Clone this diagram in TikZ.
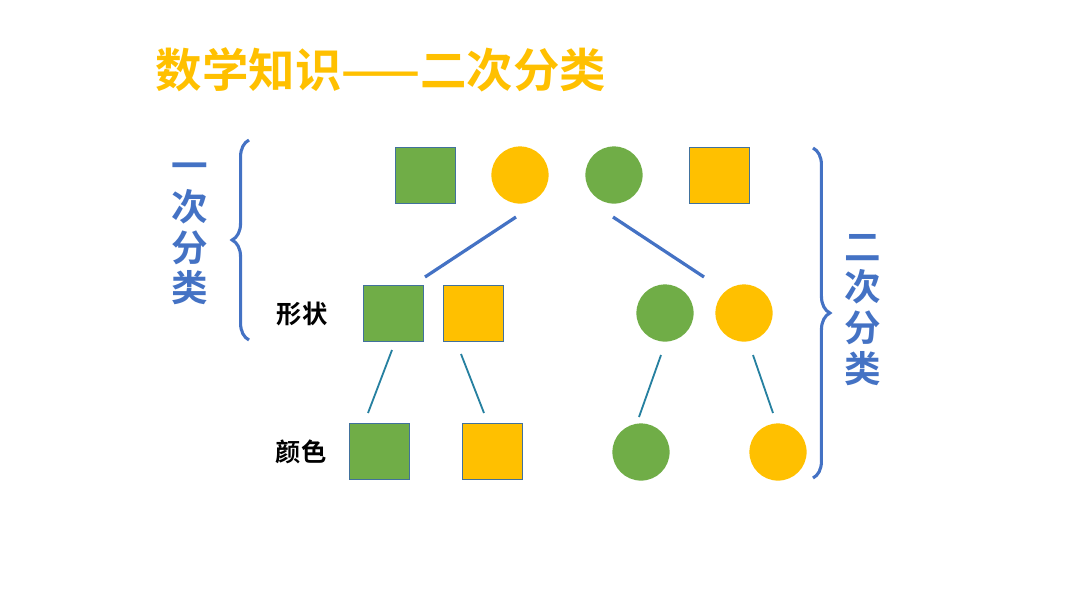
\documentclass[tikz,border=0pt]{standalone}
\usepackage{fontspec}
\setmainfont{Noto Sans CJK SC}[BoldFont={Noto Sans CJK SC Bold}]
\usetikzlibrary{decorations.pathreplacing}
\definecolor{shapegreen}{RGB}{112,173,71}
\definecolor{shapeyellow}{RGB}{255,192,0}
\definecolor{edgeblue}{RGB}{65,113,156}
\definecolor{braceblue}{RGB}{68,114,196}
\definecolor{linkteal}{RGB}{38,128,160}
\begin{document}
\begin{tikzpicture}[x=0.025cm,y=-0.025cm,
  sq/.style={draw=edgeblue,line width=0.6pt,minimum width=1.52cm,minimum height=1.4cm,inner sep=0pt},
  ci/.style={circle,minimum size=1.43cm,inner sep=0pt},
  curly/.style={draw=braceblue,line width=2.2pt,decorate,decoration={brace,amplitude=12pt}},
  bigline/.style={draw=braceblue,line width=2.3pt},
  smallline/.style={draw=linkteal,line width=1.3pt},
  sidetext/.style={text=braceblue,align=center,font=\fontsize{26}{29}\selectfont\bfseries},
  rowtext/.style={font=\fontsize{18}{20}\selectfont\bfseries}]
\useasboundingbox (0,0) rectangle (1080,608);
\node [anchor=west, text=shapeyellow, font=\fontsize{33}{38}\selectfont\bfseries] (title) at (151,70) {数学知识——二次分类};
\node [sq, fill=shapegreen] (t1) at (425.5,175) {};
\node [ci, fill=shapeyellow] (t2) at (520,175) {};
\node [ci, fill=shapegreen] (t3) at (614,175) {};
\node [sq, fill=shapeyellow] (t4) at (719.5,175) {};
\node [sq, fill=shapegreen] (m1) at (393.5,313.5) {};
\node [sq, fill=shapeyellow] (m2) at (473.5,313.5) {};
\node [ci, fill=shapegreen] (m3) at (665,313) {};
\node [ci, fill=shapeyellow] (m4) at (744,313) {};
\node [sq, fill=shapegreen] (b1) at (379.5,451.5) {};
\node [sq, fill=shapeyellow] (b2) at (492.5,451.5) {};
\node [ci, fill=shapegreen] (b3) at (641,452) {};
\node [ci, fill=shapeyellow] (b4) at (778,452) {};
\node [rowtext] (shape) at (302,314) {形状};
\node [rowtext] (colour) at (301,452) {颜色};
\node [sidetext] (first) at (190,234) {一\\次\\分\\类};
\node [sidetext] (second) at (863,310) {二\\次\\分\\类};
\coordinate (s1) at (516,217); \coordinate (e1) at (425,277);
\coordinate (s2) at (613,217); \coordinate (e2) at (704,277);
\draw [bigline] (s1) -- (e1);
\draw [bigline] (s2) -- (e2);
\coordinate (s3) at (392,350); \coordinate (e3) at (368,413);
\coordinate (s4) at (461,354); \coordinate (e4) at (484,413);
\coordinate (s5) at (661,355); \coordinate (e5) at (639,417);
\coordinate (s6) at (753,355); \coordinate (e6) at (773,413);
\draw [smallline] (s3) -- (e3);
\draw [smallline] (s4) -- (e4);
\draw [smallline] (s5) -- (e5);
\draw [smallline] (s6) -- (e6);
\draw [curly] (249,340) -- (249,140);
\draw [curly] (813,148) -- (813,478);
\end{tikzpicture}
\end{document}
